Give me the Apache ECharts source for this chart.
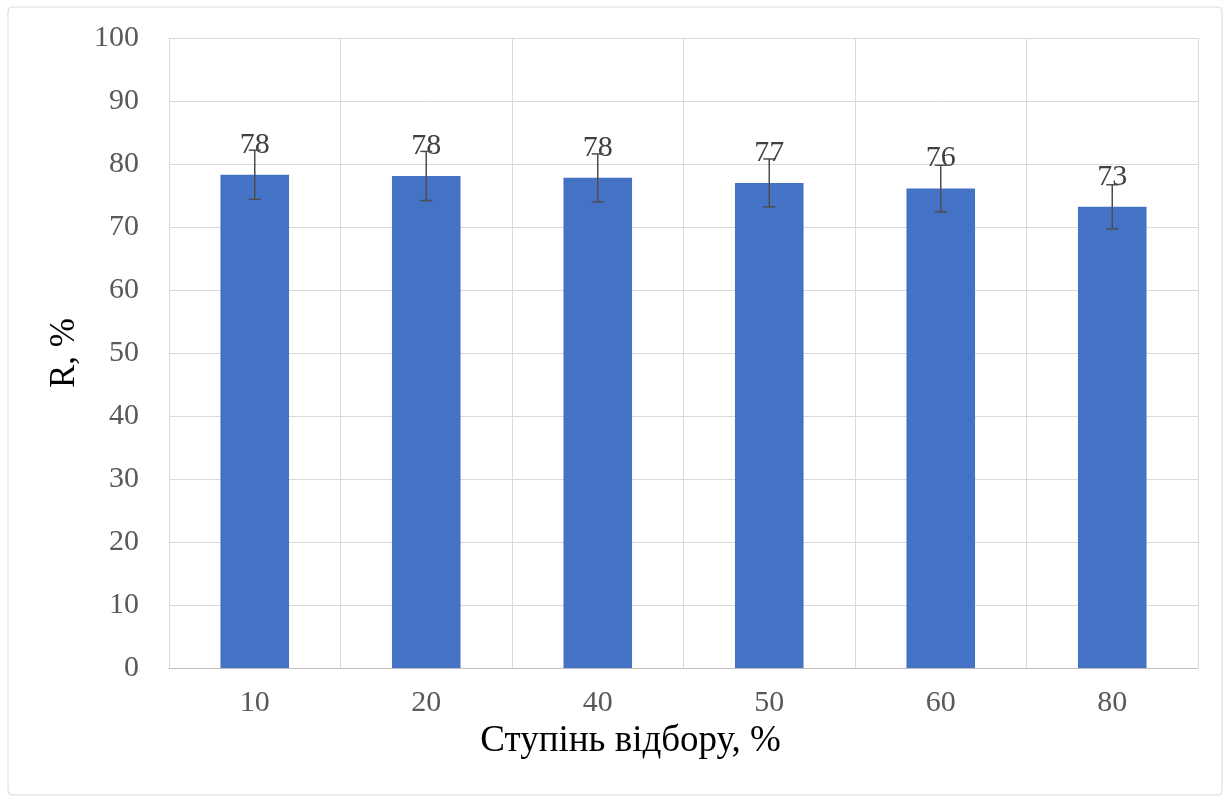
<!DOCTYPE html>
<html><head><meta charset="utf-8">
<script src="https://cdn.jsdelivr.net/npm/echarts@6/dist/echarts.min.js"></script>
<style>html,body{margin:0;padding:0;background:#fff}#c{width:1230px;height:802px}</style>
</head><body><div id="c"></div>
<script>
const categories = ['10', '20', '40', '50', '60', '80'];
const values = [78.3, 78.1, 77.8, 77.0, 76.1, 73.2];
const labels = ['78', '78', '78', '77', '76', '73'];
const errors = [3.9, 3.9, 3.8, 3.8, 3.7, 3.5];
const yTicks = [0, 10, 20, 30, 40, 50, 60, 70, 80, 90, 100];

const chart = echarts.init(document.getElementById('c'));
const font = '"Liberation Serif", "Times New Roman", serif';
chart.setOption({
  animation: false,
  graphic: [{
    type: 'rect', shape: {x: 8, y: 7, width: 1214, height: 788, r: 4},
    style: {fill: 'none', stroke: '#d9d9d9', lineWidth: 1}, z: -1
  }],
  grid: {left: 169, right: 32, top: 38, bottom: 134},
  xAxis: {
    type: 'category', data: categories,
    axisLine: {lineStyle: {color: '#bfbfbf', width: 1}},
    axisTick: {show: false},
    splitLine: {show: true, lineStyle: {color: '#d9d9d9'}},
    axisLabel: {color: '#595959', fontFamily: font, fontSize: 30, margin: 20},
    name: 'Ступінь відбору, %', nameLocation: 'middle', nameGap: 51,
    nameTextStyle: {color: '#000', fontFamily: font, fontSize: 37, padding: [0, 106, 0, 0]}
  },
  yAxis: {
    type: 'value', min: 0, max: 100, interval: 10,
    axisLine: {show: true, lineStyle: {color: '#d9d9d9'}},
    axisTick: {show: false},
    splitLine: {lineStyle: {color: '#d9d9d9'}},
    axisLabel: {color: '#595959', fontFamily: font, fontSize: 30, margin: 30,
      formatter: v => yTicks.includes(v) ? String(v) : ''},
    name: 'R, %', nameLocation: 'middle', nameGap: 87,
    nameTextStyle: {color: '#000', fontFamily: font, fontSize: 35}
  },
  series: [{
    type: 'bar', data: values, barWidth: '40%',
    itemStyle: {color: '#4472c4'},
    label: {show: true, position: 'top', distance: 15,
      formatter: p => labels[p.dataIndex],
      color: '#404040', fontFamily: font, fontSize: 30}
  }, {
    type: 'custom',
    data: values.map((v, i) => [i, v - errors[i], v + errors[i]]),
    renderItem: (params, api) => {
      const lo = api.coord([api.value(0), api.value(1)]);
      const hi = api.coord([api.value(0), api.value(2)]);
      const hw = 6;
      return {type: 'group', children: [
        {type: 'line', shape: {x1: lo[0], y1: lo[1], x2: hi[0], y2: hi[1]}, style: {stroke: '#4d4d4d', lineWidth: 1.5}},
        {type: 'line', shape: {x1: lo[0]-hw, y1: lo[1], x2: lo[0]+hw, y2: lo[1]}, style: {stroke: '#4d4d4d', lineWidth: 1.5}},
        {type: 'line', shape: {x1: hi[0]-hw, y1: hi[1], x2: hi[0]+hw, y2: hi[1]}, style: {stroke: '#4d4d4d', lineWidth: 1.5}}
      ]};
    },
    z: 10
  }]
});
</script></body></html>
